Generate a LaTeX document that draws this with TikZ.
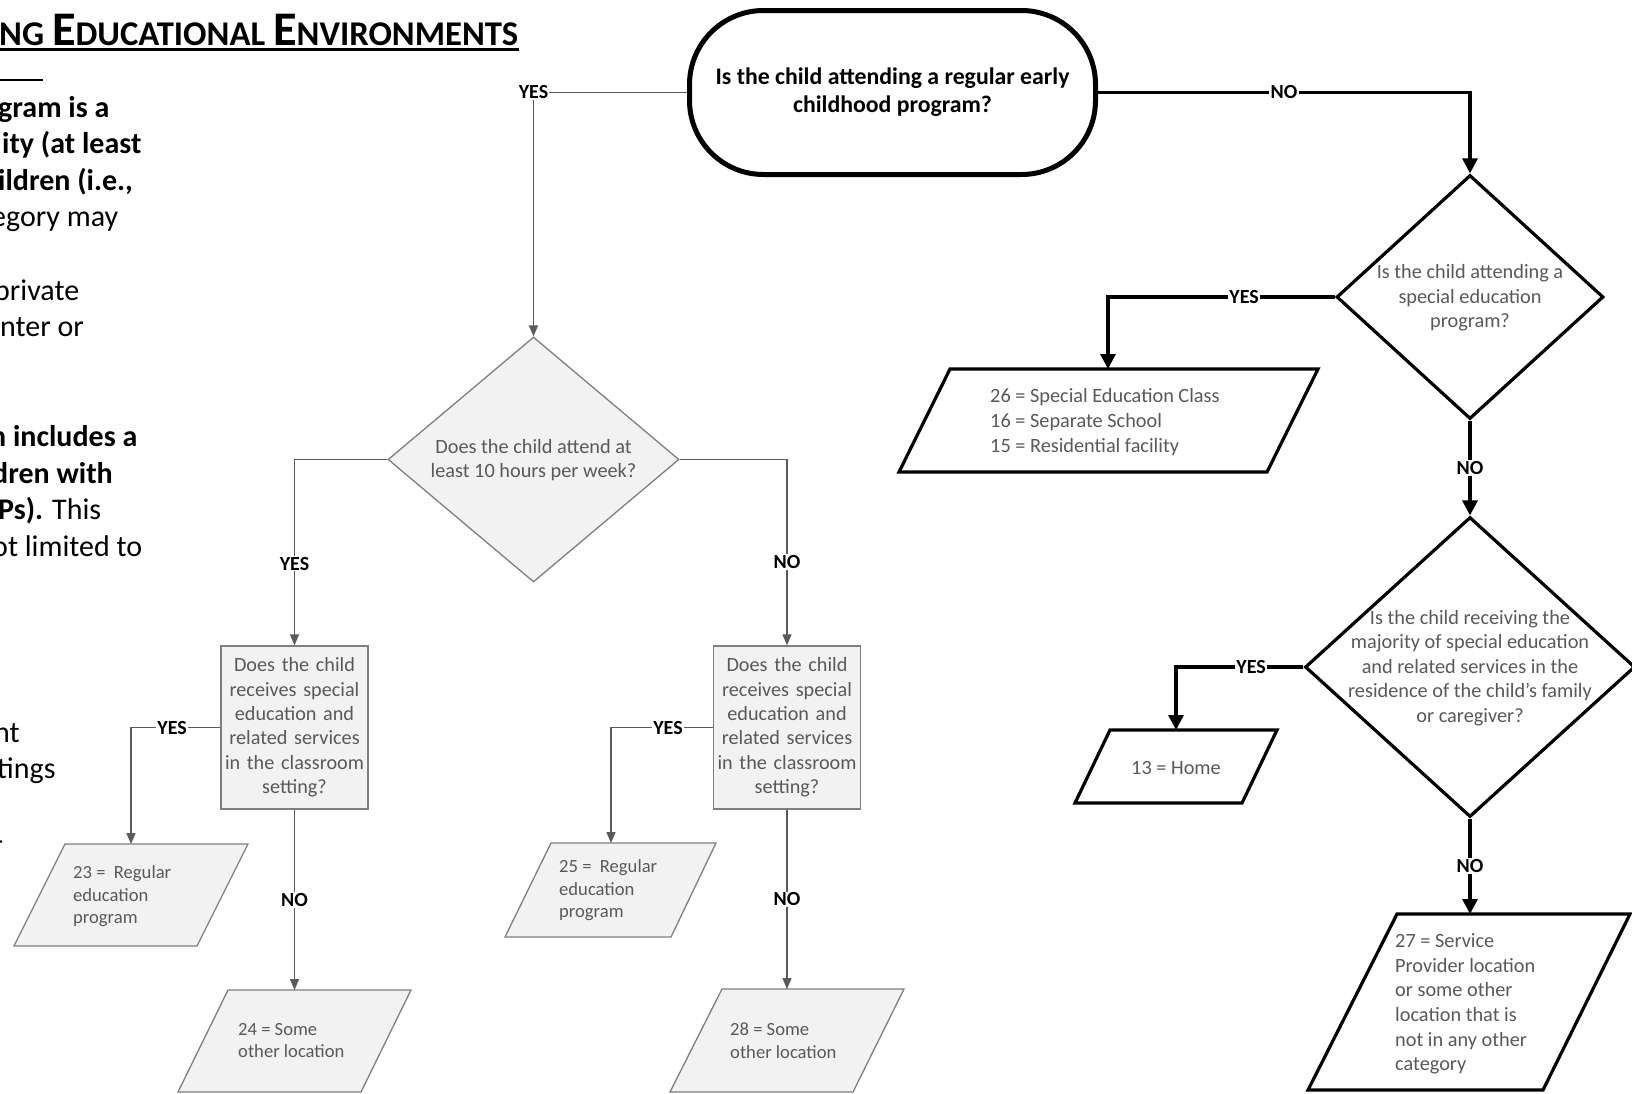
\documentclass[tikz,border=0pt]{standalone}
\usepackage{fontspec}
\setmainfont{Carlito}
\usetikzlibrary{shapes.geometric,arrows.meta}
\definecolor{txtg}{HTML}{595959}
\definecolor{lineg}{HTML}{5A5A5A}
\definecolor{fillg}{HTML}{F2F2F2}
\definecolor{bordg}{HTML}{7F7F7F}
\begin{document}
\begin{tikzpicture}[x=1pt,y=-1pt,
  every node/.style={inner sep=0pt},
  bodyb/.style={font=\fontsize{30pt}{36.6pt}\selectfont\bfseries, anchor=base west},
  bodyr/.style={font=\fontsize{30pt}{36.6pt}\selectfont, anchor=base west},
  gtxt/.style={font=\fontsize{20.3pt}{24.6pt}\selectfont, text=txtg, align=center},
  ltxt/.style={font=\fontsize{20.3pt}{24.6pt}\selectfont, text=txtg, align=left, anchor=west},
  stxt/.style={font=\fontsize{18.6pt}{22.4pt}\selectfont, text=txtg, align=left, anchor=west},
  lab/.style={font=\fontsize{20pt}{22pt}\selectfont\bfseries, fill=white, inner sep=1.2pt, text=black},
  gline/.style={draw=lineg, line width=1.3pt, -{Triangle[length=11pt,width=9pt]}},
  bline/.style={draw=black, line width=3.2pt, -{Triangle[length=15pt,width=15pt]}},
  gdia/.style={diamond, draw=bordg, fill=fillg, line width=1.3pt},
  bdia/.style={diamond, draw=black, fill=white, line width=3.2pt},
  gbox/.style={rectangle, draw=bordg, fill=fillg, line width=1.3pt, minimum width=147pt, minimum height=163pt, text width=140pt, align=center, font=\fontsize{20.2pt}{24.4pt}\selectfont, text=txtg},
  gpar/.style={draw=bordg, fill=fillg, line width=1.3pt},
  bpar/.style={draw=black, fill=white, line width=3.2pt},
  term/.style={rectangle, rounded corners=74pt, draw=black, fill=white, line width=5pt, minimum width=406pt, minimum height=164pt, align=center, font=\fontsize{23.8pt}{28pt}\selectfont\bfseries}
]
\useasboundingbox (0,0) rectangle (1632,1093);
\fill[white] (0,0) rectangle (1632,1093);
\begin{scope}
\clip (0,0) rectangle (1632,1093);

% ---- left text (clipped page) ----
\node[anchor=base west] (title) at (-1,45) {\bfseries\fontsize{34.7pt}{38pt}\selectfont NG \fontsize{48.3pt}{52pt}\selectfont E\fontsize{34.7pt}{38pt}\selectfont DUCATIONAL \fontsize{48.3pt}{52pt}\selectfont E\fontsize{34.7pt}{38pt}\selectfont NVIRONMENTS};
\draw[line width=2.5pt] ([yshift=-4.5pt]title.base west) -- ([yshift=-4.5pt]title.base east);
\coordinate (rl) at (0,80);
\coordinate (rr) at (43,80);
\draw[line width=2pt] (rl) -- (rr);
\node[bodyb] (l1) at (-2,117) {gram is a};
\node[bodyb] (l2) at (2,153.6) {ity (at least};
\node[bodyb] (l3) at (-2,190.2) {ildren (i.e.,};
\node[bodyr] (l4) at (-9,226.8) {egory may};
\node[bodyr] (l6) at (-6,300) {private};
\node[bodyr] (l7) at (0,336.6) {nter or};
\node[bodyb] (l9) at (-10,446.4) {n includes a};
\node[bodyb] (l10) at (-8,483) {dren with};
\node[bodyr] (l11) at (-2,519.6) {{\bfseries Ps).} This};
\node[bodyr] (l12) at (-8,556.2) {ot limited to};
\node[bodyr] (l13) at (-6,742) {nt};
\node[bodyr] (l14) at (-3,778.6) {tings};
\node[bodyr] (l15) at (-6,850) {-};

% ---- shapes ----
\node[term] (t) at (892.5,92.5) {Is the child attending a regular early\\childhood program?};

\node[gdia, minimum width=291pt, minimum height=245pt] (d1) at (533.5,459.5) {};
\node[gtxt] (d1t) at (533.5,460) {Does the child attend at\\least 10 hours per week?};

\node[gbox] (bA) at (294.5,727.5) {Does the child\\receives special\\education and\\related services\\in the classroom\\setting?};
\node[gbox] (bB) at (787,727.5) {Does the child\\receives special\\education and\\related services\\in the classroom\\setting?};

\path[gpar] (65,844) -- (248,844) -- (197,946) -- (14,946) -- cycle;
\coordinate (p23t) at (131,844);
\node[stxt] (p23) at (73,896.5) {23 =\ \ Regular\\education\\program};

\path[gpar] (228,990) -- (411,990) -- (361,1092) -- (178,1092) -- cycle;
\coordinate (p24t) at (294.5,990);
\node[stxt] (p24) at (238,1040.5) {24 = Some\\other location};

\path[gpar] (551,843) -- (716,843) -- (671,937) -- (505,937) -- cycle;
\coordinate (p25t) at (611,843);
\node[stxt] (p25) at (559,890.5) {25 =\ \ Regular\\education\\program};

\path[gpar] (722,989) -- (904,989) -- (853,1092) -- (670,1092) -- cycle;
\coordinate (p28t) at (787,989);
\node[stxt] (p28) at (730,1040.5) {28 = Some\\other location};

\node[bdia, minimum width=267pt, minimum height=244pt] (d2) at (1470,297) {};
\node[gtxt] (d2t) at (1470,298) {Is the child attending a\\special education\\program?};

\path[bpar] (950,369) -- (1318,369) -- (1267,472) -- (899,472) -- cycle;
\coordinate (p26t) at (1108,369);
\node[ltxt] (p26) at (990,422) {26 = Special Education Class\\16 = Separate School\\15 = Residential facility};

\node[bdia, minimum width=330pt, minimum height=300pt] (d3) at (1470,667) {};
\node[gtxt] (d3t) at (1470,668) {Is the child receiving the\\majority of special education\\and related services in the\\residence of the child’s family\\or caregiver?};

\path[bpar] (1110,730) -- (1277,730) -- (1242,803) -- (1075,803) -- cycle;
\coordinate (p13t) at (1176,730);
\node[gtxt] (p13) at (1176,768) {13 = Home};

\path[bpar] (1397,914) -- (1630,914) -- (1543,1090) -- (1308,1090) -- cycle;
\coordinate (p27t) at (1470,914);
\node[ltxt] (p27) at (1395,1004) {27 = Service\\Provider location\\or some other\\location that is\\not in any other\\category};

% ---- connectors ----
\draw[gline] (t.west) -| node[lab, pos=0.5] {YES} (d1.north);
\draw[gline] (d1.west) -| node[lab, pos=0.78] {YES} (bA.north);
\draw[gline] (d1.east) -| node[lab, pos=0.775] {NO} (bB.north);
\draw[gline] (bA.west) -| node[lab, pos=0.27] {YES} (p23t);
\draw[gline] (bA.south) -- node[lab] {NO} (p24t);
\draw[gline] (bB.west) -| node[lab, pos=0.22] {YES} (p25t);
\draw[gline] (bB.south) -- node[lab] {NO} (p28t);

\draw[bline] (t.east) -| node[lab, pos=0.25] {NO} (d2.north);
\draw[bline] (d2.west) -| node[lab, pos=0.2] {YES} (p26t);
\draw[bline] (d2.south) -- node[lab] {NO} (d3.north);
\draw[bline] (d3.west) -| node[lab, pos=0.205] {YES} (p13t);
\draw[bline] (d3.south) -- node[lab] {NO} (p27t);
\end{scope}
\end{tikzpicture}
\end{document}
